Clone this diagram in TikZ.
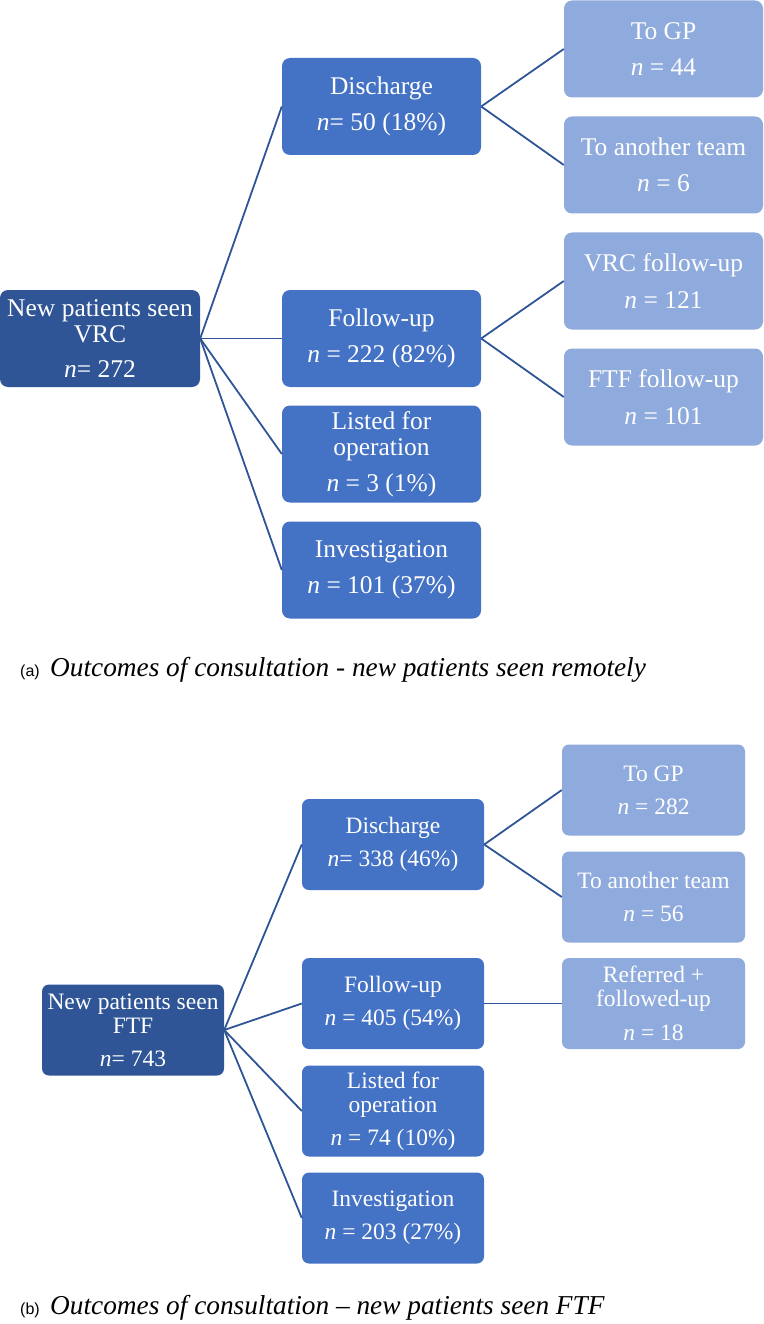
\documentclass[tikz,border=0pt]{standalone}
\usepackage{fontspec}
\setmainfont{Liberation Serif}
\setsansfont{Liberation Sans}
\definecolor{rootblue}{HTML}{2F5597}
\definecolor{midblue}{HTML}{4472C4}
\definecolor{paleblue}{HTML}{8FAADC}
\definecolor{linkblue}{HTML}{2F5597}

\begin{document}
\begin{tikzpicture}[x=1pt,y=-1pt]
\tikzstyle{box}=[rectangle,rounded corners=8pt,text=white,align=center,inner sep=0pt]
\tikzstyle{big}=[font=\fontsize{25.5}{26.5}\selectfont]
\tikzstyle{small}=[font=\fontsize{23.5}{24}\selectfont,rounded corners=7pt]
\tikzstyle{rootbox}=[box,fill=rootblue]
\tikzstyle{midbox}=[box,fill=midblue]
\tikzstyle{leafbox}=[box,fill=paleblue]
\tikzstyle{cella}=[big,minimum width=199pt,minimum height=97pt]
\tikzstyle{cellb}=[small,minimum width=182pt,minimum height=91pt]
\tikzstyle{link}=[draw=linkblue,line width=1.8pt]
\tikzstyle{caption}=[anchor=base west,inner sep=0pt]
\tikzstyle{tag}=[caption,font=\sffamily\fontsize{16}{18}\selectfont]
\tikzstyle{title}=[caption,font=\itshape\fontsize{27.3}{30}\selectfont]

\useasboundingbox (0,0) rectangle (763,1324);

% (a) remote
\node[rootbox,cella,minimum width=200pt] (va) at (100,338.5) {New patients seen\\VRC\\[8pt]\textit{n}= 272};

\node[midbox,cella] (vdis) at (381.5,106.5) {Discharge\\[10pt]\textit{n}= 50 (18\%)};
\node[midbox,cella] (vfol) at (381.5,338.5) {Follow-up\\[10pt]\textit{n} = 222 (82\%)};
\node[midbox,cella] (vlis) at (381.5,454)   {Listed for\\operation\\[9pt]\textit{n} = 3 (1\%)};
\node[midbox,cella] (vinv) at (381.5,570)   {Investigation\\[10pt]\textit{n} = 101 (37\%)};

\node[leafbox,cella] (vgp)  at (663.5,49)  {To GP\\[10pt]\textit{n} = 44};
\node[leafbox,cella] (vteam) at (663.5,165) {To another team\\[10pt]\textit{n} = 6};
\node[leafbox,cella] (vvrc) at (663.5,281) {VRC follow-up\\[10pt]\textit{n} = 121};
\node[leafbox,cella] (vftf) at (663.5,397) {FTF follow-up\\[10pt]\textit{n} = 101};

\draw[link] (va.east) -- (vdis.west);
\draw[link] (va.east) -- (vfol.west);
\draw[link] (va.east) -- (vlis.west);
\draw[link] (va.east) -- (vinv.west);
\draw[link] (vdis.east) -- (vgp.west);
\draw[link] (vdis.east) -- (vteam.west);
\draw[link] (vfol.east) -- (vvrc.west);
\draw[link] (vfol.east) -- (vftf.west);

\node[tag] (capa) at (20,676) {(a)};
\node[title] (capta) at (50,676) {Outcomes of consultation - new patients seen remotely};

% (b) face to face
\node[rootbox,cellb] (fa) at (133,1030) {New patients seen\\FTF\\[9pt]\textit{n}= 743};

\node[midbox,cellb] (fdis) at (393,844.5) {Discharge\\[9pt]\textit{n}= 338 (46\%)};
\node[midbox,cellb] (ffol) at (393,1003.5) {Follow-up\\[9pt]\textit{n} = 405 (54\%)};
\node[midbox,cellb] (flis) at (393,1111) {Listed for\\operation\\[9pt]\textit{n} = 74 (10\%)};
\node[midbox,cellb] (finv) at (393,1218) {Investigation\\[9pt]\textit{n} = 203 (27\%)};

\node[leafbox,cellb,minimum width=183pt] (fgp)  at (653.5,790)  {To GP\\[9pt]\textit{n} = 282};
\node[leafbox,cellb,minimum width=183pt] (fteam) at (653.5,897) {To another team\\[9pt]\textit{n} = 56};
\node[leafbox,cellb,minimum width=183pt] (fref) at (653.5,1003.5) {Referred +\\followed-up\\[10pt]\textit{n} = 18};

\draw[link] (fa.east) -- (fdis.west);
\draw[link] (fa.east) -- (ffol.west);
\draw[link] (fa.east) -- (flis.west);
\draw[link] (fa.east) -- (finv.west);
\draw[link] (fdis.east) -- (fgp.west);
\draw[link] (fdis.east) -- (fteam.west);
\draw[link] (ffol.east) -- (fref.west);

\node[tag] (capb) at (20,1314) {(b)};
\node[title] (captb) at (50,1314) {Outcomes of consultation -- new patients seen FTF};

\end{tikzpicture}
\end{document}
